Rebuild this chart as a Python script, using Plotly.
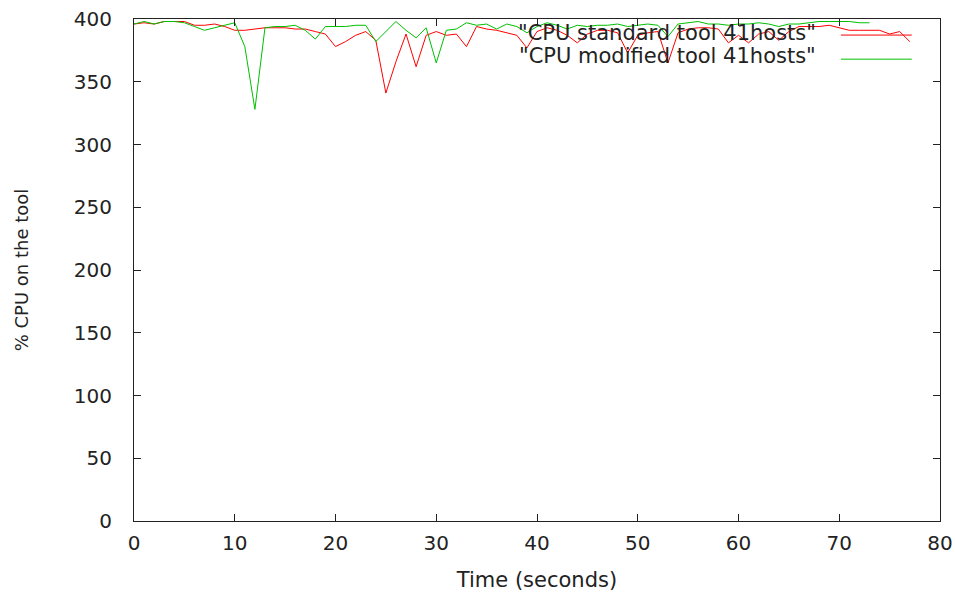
import plotly.graph_objects as go

# Time (seconds)
t_standard = list(range(0, 78))
t_modified = list(range(0, 74))

cpu_standard = [
    396, 397, 396, 398, 398, 398, 395, 395, 396, 394,
    391, 391, 392, 393, 393, 393, 392, 392, 390, 388,
    378, 382, 387, 390, 383, 341, 366, 388, 362, 387,
    390, 387, 388, 378, 394, 392, 391, 389, 387, 377,
    390, 393, 391, 387, 381, 388, 391, 391, 389, 373,
    387, 389, 390, 365, 389, 392, 393, 393, 392, 381,
    387, 381, 388, 390, 383, 390, 394, 394, 394, 395,
    393, 391, 391, 391, 391, 388, 390, 382,
]

cpu_modified = [
    396, 398, 396, 398, 398, 397, 394, 391, 393, 395,
    397, 378, 328, 393, 394, 394, 395, 391, 384, 394,
    394, 394, 395, 395, 382, 390, 398, 391, 385, 393,
    365, 391, 392, 397, 395, 396, 392, 396, 394, 389,
    394, 397, 395, 392, 395, 394, 395, 395, 396, 394,
    395, 396, 395, 386, 396, 397, 398, 396, 396, 395,
    396, 396, 397, 396, 394, 396, 396, 397, 398, 398,
    398, 398, 397, 397,
]

series_names = ['"CPU standard tool 41hosts"', '"CPU modified tool 41hosts"']
series_colors = ["#ff0000", "#00c000"]

x_ticks = list(range(0, 81, 10))
y_ticks = list(range(0, 401, 50))

FONT = "DejaVu Sans"
TXT = "#222222"

fig = go.Figure()
fig.add_trace(go.Scatter(x=t_standard, y=cpu_standard, mode="lines",
                         line=dict(color=series_colors[0], width=1),
                         name=series_names[0], showlegend=False))
fig.add_trace(go.Scatter(x=t_modified, y=cpu_modified, mode="lines",
                         line=dict(color=series_colors[1], width=1),
                         name=series_names[1], showlegend=False))

# gnuplot-style key: text on the left, sample line on the right
key_text_y = [0.973, 0.926]
key_line_y = [0.968, 0.920]
for name, color, ty, ly in zip(series_names, series_colors, key_text_y, key_line_y):
    fig.add_annotation(x=0.849, y=ty, xref="paper", yref="paper",
                       text=name, showarrow=False, xanchor="right", yanchor="middle",
                       height=22, valign="middle",
                       font=dict(family=FONT, size=21, color=TXT))
    fig.add_shape(type="line", xref="paper", yref="paper",
                  x0=0.877, x1=0.965, y0=ly, y1=ly,
                  line=dict(color=color, width=1))

fig.update_layout(
    width=955, height=592,
    margin=dict(l=134, r=15, t=19, b=71, autoexpand=False),
    paper_bgcolor="white", plot_bgcolor="white",
    font=dict(family=FONT, size=20, color=TXT),
    showlegend=False,
)
fig.update_xaxes(
    range=[0, 80], tickvals=x_ticks, ticktext=[str(v) for v in x_ticks],
    ticks="inside", ticklen=7, tickcolor="#222", mirror="ticks",
    showline=True, linecolor="#222", linewidth=1, showgrid=False, zeroline=False,
    ticklabelstandoff=4, automargin=False, ticklabeloverflow="allow",
    tickfont=dict(family=FONT, size=20, color=TXT),
    title=dict(text="Time (seconds)", font=dict(family=FONT, size=21, color=TXT), standoff=18),
)
fig.update_yaxes(
    range=[0, 400], tickvals=y_ticks, ticktext=[str(v) for v in y_ticks],
    ticks="inside", ticklen=7, tickcolor="#222", mirror="ticks",
    showline=True, linecolor="#222", linewidth=1, showgrid=False, zeroline=False,
    ticklabelstandoff=17, automargin=False, ticklabeloverflow="allow",
    tickfont=dict(family=FONT, size=20, color=TXT),
    title=dict(text="% CPU on the tool", font=dict(family=FONT, size=18, color=TXT), standoff=40),
)

# remove the default 8px page margin so the figure fills the window exactly
fig.write_html("out.html",
               config={"displayModeBar": False},
               post_script="document.body.style.margin='0';document.body.style.overflow='hidden';")
